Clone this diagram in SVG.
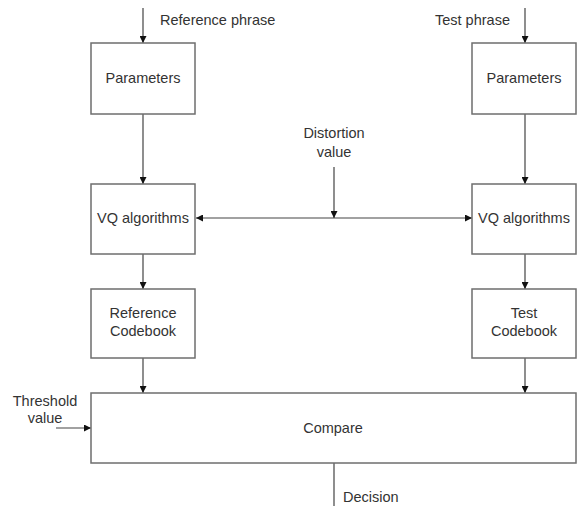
<svg xmlns="http://www.w3.org/2000/svg" width="577" height="506" viewBox="0 0 577 506">
<style>
.box{fill:#fff;stroke:#6e6e6e;stroke-width:1.5}
.t{font-family:"Liberation Sans",Arial,sans-serif;font-size:14.5px;fill:#333;text-anchor:middle}
.ts{font-family:"Liberation Sans",Arial,sans-serif;font-size:14.5px;fill:#333}
.c{stroke:#444;stroke-width:1.2;fill:none}
</style>
<defs>
<marker id="ah" viewBox="0 0 10 10" refX="10" refY="5" markerWidth="9" markerHeight="7" markerUnits="userSpaceOnUse" orient="auto-start-reverse">
<path d="M0,0 L10,5 L0,10 z" fill="#111"/>
</marker>
</defs>
<rect width="577" height="506" fill="#fff"/>
<g id="connectors">
<line class="c" x1="143" y1="8" x2="143" y2="43" marker-end="url(#ah)"/>
<line class="c" x1="525" y1="8" x2="525" y2="43" marker-end="url(#ah)"/>
<line class="c" x1="143" y1="114" x2="143" y2="184" marker-end="url(#ah)"/>
<line class="c" x1="525" y1="114" x2="525" y2="184" marker-end="url(#ah)"/>
<line class="c" x1="196" y1="218" x2="472" y2="218" marker-start="url(#ah)" marker-end="url(#ah)"/>
<line class="c" x1="334" y1="167" x2="334" y2="218" marker-end="url(#ah)"/>
<line class="c" x1="143" y1="254" x2="143" y2="289" marker-end="url(#ah)"/>
<line class="c" x1="525" y1="254" x2="525" y2="289" marker-end="url(#ah)"/>
<line class="c" x1="143" y1="358" x2="143" y2="393" marker-end="url(#ah)"/>
<line class="c" x1="525" y1="358" x2="525" y2="393" marker-end="url(#ah)"/>
<line class="c" x1="56" y1="428" x2="91" y2="428" marker-end="url(#ah)"/>
<line class="c" x1="334" y1="463" x2="334" y2="506"/>
</g>
<g id="labels">
<text class="ts" x="160" y="25">Reference phrase</text>
<text class="ts" x="435" y="25">Test phrase</text>
<text class="t" x="334" y="138">Distortion</text>
<text class="t" x="334" y="157">value</text>
<text class="t" x="45" y="406">Threshold</text>
<text class="t" x="45" y="423">value</text>
<text class="ts" x="343" y="502">Decision</text>
</g>
<g id="ref-params">
<rect class="box" x="91" y="43" width="104" height="71"/>
<text class="t" x="143" y="83">Parameters</text>
</g>
<g id="test-params">
<rect class="box" x="472" y="43" width="104" height="71"/>
<text class="t" x="524" y="83">Parameters</text>
</g>
<g id="ref-vq">
<rect class="box" x="91" y="184" width="104" height="70"/>
<text class="t" x="143" y="223">VQ algorithms</text>
</g>
<g id="test-vq">
<rect class="box" x="472" y="184" width="104" height="70"/>
<text class="t" x="524" y="223">VQ algorithms</text>
</g>
<g id="ref-codebook">
<rect class="box" x="91" y="289" width="104" height="69"/>
<text class="t" x="143" y="318">Reference</text>
<text class="t" x="143" y="336">Codebook</text>
</g>
<g id="test-codebook">
<rect class="box" x="472" y="289" width="104" height="69"/>
<text class="t" x="524" y="318">Test</text>
<text class="t" x="524" y="336">Codebook</text>
</g>
<g id="compare">
<rect class="box" x="91" y="393" width="485" height="70"/>
<text class="t" x="333" y="433">Compare</text>
</g>
</svg>
